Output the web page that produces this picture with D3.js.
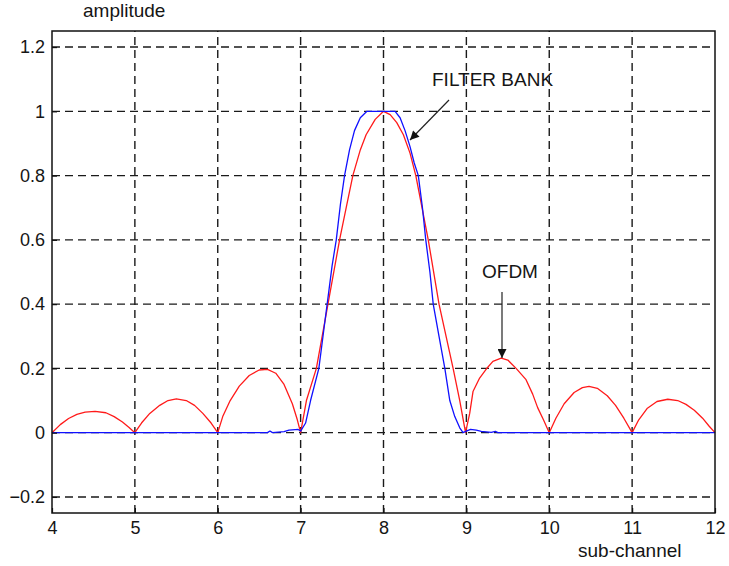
<!DOCTYPE html>
<html>
<head>
<meta charset="UTF-8">
<title>OFDM vs Filter Bank</title>
<style>
  body { margin: 0; background: white; font-family: "Liberation Sans", Arial, sans-serif; }
  .grid line { stroke: #1a1a1a; stroke-width: 1.4px; stroke-dasharray: 8,5; }
  .frame { fill: none; stroke: #111; stroke-width: 1.5px; }
  .curve { fill: none; stroke-width: 1.3px; stroke-linejoin: round; }
  text { fill: #151515; }
</style>
</head>
<body>
<script src="https://d3js.org/d3.v7.min.js"></script>
<script>
var xTicks = [4, 5, 6, 7, 8, 9, 10, 11, 12];
var yTicks = [-0.2, 0, 0.2, 0.4, 0.6, 0.8, 1, 1.2];

// OFDM (red)
var ofdmX = [4.0, 4.1, 4.2, 4.3, 4.4, 4.52, 4.65, 4.75, 4.85, 4.93, 5.0,
  5.08, 5.18, 5.3, 5.4, 5.5, 5.62, 5.72, 5.82, 5.92, 6.0,
  6.06, 6.15, 6.26, 6.38, 6.5, 6.6, 6.7, 6.8, 6.9, 6.96, 7.0,
  7.07, 7.19, 7.33, 7.47, 7.55, 7.63, 7.72, 7.79, 7.9, 8.0, 8.08, 8.16, 8.24, 8.32, 8.39, 8.54, 8.67, 8.84, 8.92, 8.99,
  9.04, 9.08, 9.16, 9.24, 9.32, 9.42, 9.5, 9.6, 9.72, 9.8, 9.86, 9.93, 10.0,
  10.08, 10.18, 10.3, 10.4, 10.48, 10.58, 10.7, 10.8, 10.9, 11.0,
  11.08, 11.18, 11.3, 11.43, 11.55, 11.65, 11.75, 11.85, 11.93, 12.0];
var ofdmY = [0, 0.025, 0.044, 0.057, 0.064, 0.066, 0.062, 0.05, 0.033, 0.016, 0,
  0.03, 0.06, 0.085, 0.1, 0.105, 0.1, 0.085, 0.06, 0.03, 0,
  0.05, 0.1, 0.145, 0.178, 0.195, 0.197, 0.185, 0.15, 0.09, 0.04, 0,
  0.1, 0.2, 0.4, 0.6, 0.7, 0.8, 0.88, 0.927, 0.975, 1.0, 0.99, 0.965, 0.927, 0.87, 0.8, 0.6, 0.4, 0.2, 0.1, 0,
  0.06, 0.128, 0.17, 0.198, 0.222, 0.232, 0.226, 0.2, 0.165, 0.12, 0.078, 0.04, 0,
  0.045, 0.09, 0.125, 0.14, 0.144, 0.138, 0.115, 0.085, 0.045, 0,
  0.04, 0.075, 0.097, 0.104, 0.1, 0.088, 0.07, 0.045, 0.02, 0];

// filter bank (blue)
var fbX = [4.0, 6.6, 6.63, 6.66, 6.8, 6.86, 6.97, 7.0, 7.06, 7.12, 7.22, 7.27, 7.32, 7.38, 7.43, 7.48, 7.53, 7.59, 7.65, 7.72, 7.8,
  8.14, 8.2, 8.26, 8.32, 8.37, 8.42, 8.47, 8.51, 8.56, 8.6, 8.67, 8.74, 8.8, 8.86, 8.92, 8.96,
  9.0, 9.05, 9.12, 9.18, 9.3, 9.35, 9.38, 12.0];
var fbY = [0, 0, 0.005, 0, 0.003, 0.008, 0.01, 0.005, 0.03, 0.1, 0.2, 0.3, 0.4, 0.52, 0.6, 0.71, 0.8, 0.88, 0.94, 0.98, 1.0,
  1.0, 0.98, 0.94, 0.89, 0.84, 0.8, 0.7, 0.6, 0.5, 0.4, 0.3, 0.2, 0.1, 0.05, 0.015, 0,
  0.005, 0.01, 0.008, 0.004, 0.001, 0.004, 0, 0];

var width = 729, height = 566;
var svg = d3.select("body").append("svg")
    .attr("width", width)
    .attr("height", height);

var x = d3.scaleLinear().domain([4, 12]).range([52, 715]);
var y = d3.scaleLinear().domain([-0.25, 1.25]).range([513, 31]);

// grid
var grid = svg.append("g").attr("class", "grid");
grid.selectAll(".gx").data(xTicks.slice(1, -1)).enter().append("line")
    .attr("x1", d => x(d)).attr("x2", d => x(d))
    .attr("y1", y.range()[0]).attr("y2", y.range()[1]);
grid.selectAll(".gy").data(yTicks).enter().append("line")
    .attr("y1", d => y(d)).attr("y2", d => y(d))
    .attr("x1", x.range()[0]).attr("x2", x.range()[1]);

// curves
var line = d3.line().x(d => x(d[0])).y(d => y(d[1]));
svg.append("path").attr("class", "curve")
    .attr("stroke", "#ff1a1a")
    .attr("d", line(d3.zip(ofdmX, ofdmY)));
svg.append("path").attr("class", "curve")
    .attr("stroke", "#1010ff")
    .attr("d", line(d3.zip(fbX, fbY)));

// frame and inward ticks
svg.append("rect").attr("class", "frame")
    .attr("x", x.range()[0]).attr("y", y.range()[1])
    .attr("width", x.range()[1] - x.range()[0])
    .attr("height", y.range()[0] - y.range()[1]);

var axisB = d3.axisBottom(x).tickValues(xTicks).tickSize(-5).tickPadding(8).tickFormat(d3.format("d"));
var axisL = d3.axisLeft(y).tickValues(yTicks).tickSize(-5).tickPadding(7).tickFormat(d => d === 0 ? "0" : d3.format("")(d));
var gb = svg.append("g").attr("transform", "translate(0," + y.range()[0] + ")").call(axisB);
var gl = svg.append("g").attr("transform", "translate(" + x.range()[0] + ",0)").call(axisL);
[gb, gl].forEach(function(g) {
  g.select(".domain").remove();
  g.selectAll(".tick line").attr("stroke", "#111").attr("stroke-width", 1.2);
  g.selectAll("text").attr("font-size", 18).attr("font-family", "Liberation Sans, Arial, sans-serif").attr("fill", "#151515");
});
gb.selectAll("text").attr("dy", "0.71em");

// axis labels
svg.append("text").attr("x", 83).attr("y", 17).attr("font-size", 19).text("amplitude");
svg.append("text").attr("x", 578).attr("y", 557).attr("font-size", 19).text("sub-channel");

// annotations
svg.append("defs").append("marker")
    .attr("id", "ah").attr("viewBox", "0 0 10 10")
    .attr("refX", 10).attr("refY", 5)
    .attr("markerWidth", 14).attr("markerHeight", 9)
    .attr("markerUnits", "userSpaceOnUse")
    .attr("orient", "auto")
  .append("path").attr("d", "M0,0 L10,5 L0,10 Z").attr("fill", "#111");

svg.append("text").attr("x", 432).attr("y", 86).attr("font-size", 19).text("FILTER BANK");
svg.append("line").attr("x1", 449).attr("y1", 100).attr("x2", 410).attr("y2", 140)
    .attr("stroke", "#222").attr("stroke-width", 1.2).attr("marker-end", "url(#ah)");

svg.append("text").attr("x", 482).attr("y", 278).attr("font-size", 19).text("OFDM");
svg.append("line").attr("x1", 502).attr("y1", 292).attr("x2", 502).attr("y2", 358)
    .attr("stroke", "#222").attr("stroke-width", 1.2).attr("marker-end", "url(#ah)");
</script>
</body>
</html>
